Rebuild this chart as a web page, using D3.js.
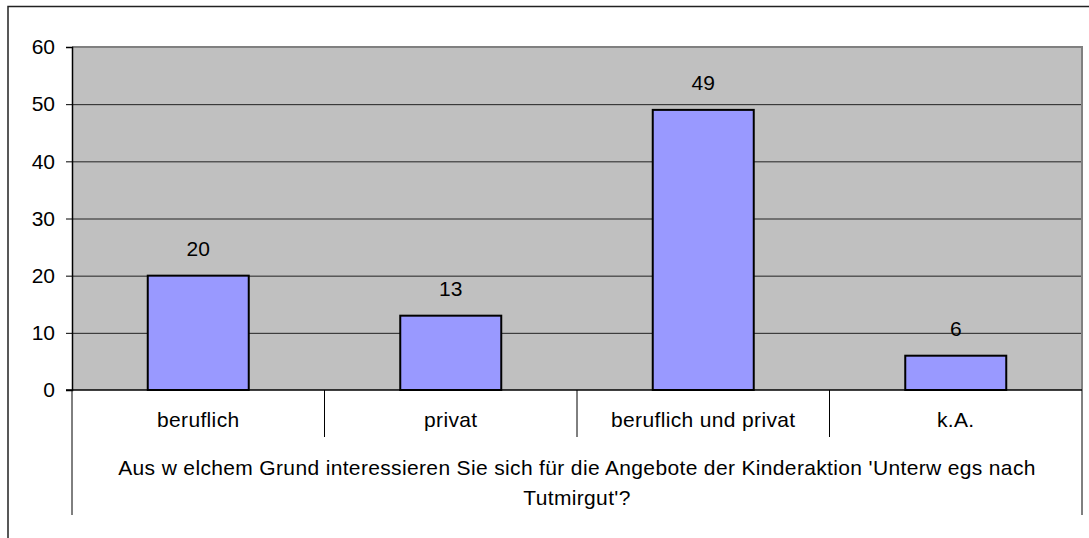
<!DOCTYPE html>
<html>
<head>
<meta charset="utf-8">
<script src="https://cdn.jsdelivr.net/npm/d3@7"></script>
<style>
  body { margin: 0; background: #fff; }
  text { font-family: "Liberation Sans", Arial, sans-serif; fill: #000; }
</style>
</head>
<body>
<script>
// data
const categories = ["beruflich", "privat", "beruflich und privat", "k.A."];
const counts = [20, 13, 49, 6];
const yTicks = [0, 10, 20, 30, 40, 50, 60];
const titleLines = ["Aus w elchem Grund interessieren Sie sich für die Angebote der Kinderaktion 'Unterw egs nach", "Tutmirgut'?"];

const W = 1089, H = 538;
const plot = {left: 72, right: 1082, top: 47, bottom: 390};
const fontSize = 21;
const spacing = "0.35px";

let svg = d3.select("body")
  .append("svg")
    .attr("width", W)
    .attr("height", H);

// outer frame (cut off at right and bottom)
svg.append("path")
  .attr("d", `M8,${H + 2}V6.5H${W + 2}`)
  .attr("fill", "none")
  .attr("stroke", "#222")
  .attr("stroke-width", 1.5);

let x = d3.scaleBand()
  .domain(categories)
  .range([plot.left, plot.right])
  .padding(0);

let y = d3.scaleLinear()
  .domain([0, 60])
  .range([plot.bottom, plot.top]);

// plot background
svg.append("rect")
  .attr("x", plot.left)
  .attr("y", plot.top)
  .attr("width", plot.right - plot.left)
  .attr("height", plot.bottom - plot.top)
  .attr("fill", "#c0c0c0");

// grid lines
svg.selectAll("line.grid").data(yTicks.filter(d => d > 0 && d < 60))
  .enter()
  .append("line")
    .attr("class", "grid")
    .attr("x1", plot.left)
    .attr("x2", plot.right)
    .attr("y1", d => y(d) + 0.5)
    .attr("y2", d => y(d) + 0.5)
    .attr("stroke", "#222")
    .attr("stroke-width", 1);

// plot border top/right (grey)
svg.append("path")
  .attr("d", `M${plot.left},${y(60)}H${plot.right}V${plot.bottom}`)
  .attr("fill", "none")
  .attr("stroke", "#808080")
  .attr("stroke-width", 2);

// bars
let barW = x.bandwidth() * 0.4;
svg.selectAll("rect.bar").data(counts)
  .enter()
  .append("rect")
    .attr("class", "bar")
    .attr("x", (d, i) => x(categories[i]) + (x.bandwidth() - barW) / 2)
    .attr("y", d => y(d))
    .attr("width", barW)
    .attr("height", d => y(0) - y(d))
    .attr("fill", "#9999ff")
    .attr("stroke", "#000")
    .attr("stroke-width", 2);

// value labels
svg.selectAll("text.val").data(counts)
  .enter()
  .append("text")
    .attr("class", "val")
    .attr("x", (d, i) => x(categories[i]) + x.bandwidth() / 2)
    .attr("y", d => y(d) - 20)
    .attr("text-anchor", "middle")
    .style("font-size", fontSize + "px")
    .text(d => d);

// y axis
let yAxis = svg.append("g")
  .attr("transform", `translate(${plot.left},0)`)
  .call(d3.axisLeft(y).tickValues(yTicks).tickSize(6).tickPadding(11));
yAxis.select(".domain").attr("stroke", "#000").attr("stroke-width", 1.5);
yAxis.selectAll(".tick line").attr("stroke", "#000");
yAxis.selectAll(".tick text")
  .style("font-size", fontSize + "px")
  .style("font-family", "Liberation Sans, Arial, sans-serif");

// x axis baseline
svg.append("line")
  .attr("x1", plot.left - 6).attr("x2", plot.right)
  .attr("y1", y(0)).attr("y2", y(0))
  .attr("stroke", "#000").attr("stroke-width", 1.5);

// category separators
let edges = categories.map(c => x(c)).concat([plot.right]);
svg.selectAll("line.sep").data(edges)
  .enter()
  .append("line")
    .attr("class", "sep")
    .attr("x1", d => d)
    .attr("x2", d => d)
    .attr("y1", y(0))
    .attr("y2", (d, i) => (i === 0 || i === edges.length - 1) ? 515 : 437)
    .attr("stroke", "#000")
    .attr("stroke-width", 1);

// category labels
svg.selectAll("text.cat").data(categories)
  .enter()
  .append("text")
    .attr("class", "cat")
    .attr("x", d => x(d) + x.bandwidth() / 2)
    .attr("y", 427)
    .attr("text-anchor", "middle")
    .style("font-size", fontSize + "px")
    .style("letter-spacing", spacing)
    .text(d => d);

// axis title
svg.selectAll("text.title").data(titleLines)
  .enter()
  .append("text")
    .attr("class", "title")
    .attr("x", (plot.left + plot.right) / 2)
    .attr("y", (d, i) => 475 + i * 30)
    .attr("text-anchor", "middle")
    .style("font-size", fontSize + "px")
    .style("letter-spacing", spacing)
    .text(d => d);
</script>
</body>
</html>
